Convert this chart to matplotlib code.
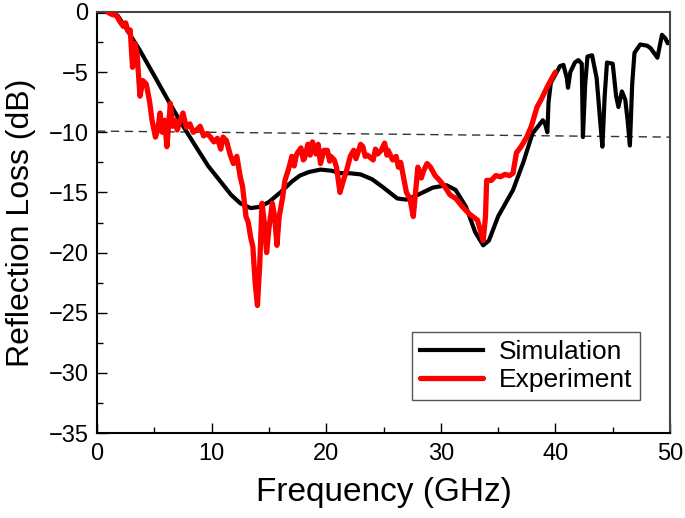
import matplotlib
matplotlib.use('Agg')
import matplotlib.pyplot as plt
from matplotlib.ticker import MultipleLocator

plt.rcParams['font.family'] = ['Liberation Sans', 'DejaVu Sans']

# Simulation (black)
sim_f = [0.0, 1.2, 1.8, 2.5, 3.75, 5.0, 6.0, 7.2, 8.5, 9.7, 10.7, 11.7, 12.5, 13.4, 14.2,
         15.0, 16.0, 17.0, 17.7, 18.5, 19.5, 20.5, 21.2, 22.0, 23.0, 24.0, 25.0, 26.2, 27.0,
         28.0, 29.3, 30.5, 31.3, 32.2, 33.0, 33.7, 34.2, 35.0, 36.3, 37.2, 38.0, 38.9, 39.1,
         39.3, 39.4, 39.6, 40.0, 40.4, 40.7, 41.0, 41.1, 41.3, 41.7, 42.0, 42.3, 42.4, 42.6,
         42.8, 43.2, 43.6, 43.9, 44.1, 44.3, 44.5, 45.0, 45.3, 45.5, 45.8, 46.1, 46.3, 46.5,
         46.7, 46.9, 47.4, 48.0, 48.3, 48.9, 49.3, 49.6, 49.8, 50.0]
sim_rl = [0.0, 0.0, -0.3, -1.3, -3.2, -5.3, -7.0, -9.0, -11.0, -12.8, -14.0, -15.2, -15.9,
          -16.3, -16.2, -15.8, -15.0, -14.1, -13.6, -13.3, -13.1, -13.2, -13.4, -13.4, -13.5,
          -13.9, -14.6, -15.5, -15.6, -15.2, -14.6, -14.4, -14.8, -16.2, -18.3, -19.4, -19.0,
          -17.0, -14.8, -12.5, -10.1, -9.0, -9.3, -10.0, -7.5, -5.9, -5.2, -4.5, -4.4, -5.5,
          -6.3, -5.0, -4.2, -4.0, -4.3, -10.4, -6.0, -3.7, -3.6, -5.5, -9.0, -11.2, -7.0, -4.2,
          -4.3, -7.0, -7.9, -6.6, -7.3, -9.0, -11.1, -6.0, -3.4, -2.7, -2.8, -3.0, -3.8, -1.9,
          -2.2, -2.6, -2.5]

# Experiment (red)
exp_f = [0.9, 1.3, 1.7, 2.0, 2.3, 2.5, 2.7, 2.9, 3.0, 3.1, 3.3, 3.5, 3.75, 4.0, 4.3, 4.6,
         4.8, 5.1, 5.3, 5.5, 5.7, 5.9, 6.1, 6.4, 6.6, 6.8, 7.0, 7.2, 7.5, 7.8, 8.1, 8.4, 8.7,
         9.0, 9.3, 9.6, 9.9, 10.2, 10.5, 10.8, 11.0, 11.3, 11.6, 11.9, 12.2, 12.5, 12.7, 13.0,
         13.2, 13.4, 13.6, 13.8, 14.0, 14.2, 14.4, 14.6, 14.8, 15.0, 15.3, 15.5, 15.7, 15.9,
         16.2, 16.4, 16.7, 16.9, 17.0, 17.2, 17.4, 17.5, 17.8, 18.0, 18.1, 18.4, 18.6, 18.8,
         19.1, 19.3, 19.5, 19.8, 20.1, 20.3, 20.4, 20.7, 20.9, 21.2, 21.5, 21.8, 22.1, 22.4,
         22.6, 22.8, 23.0, 23.2, 23.4, 23.6, 24.1, 24.3, 24.5, 24.8, 25.1, 25.3, 25.4, 25.8,
         26.1, 26.3, 26.5, 27.0, 27.3, 27.6, 28.0, 28.3, 28.5, 28.8, 29.1, 29.5, 29.9, 30.4,
         30.8, 31.3, 31.9, 32.5, 33.2, 33.7, 33.9, 34.0, 34.4, 34.8, 35.2, 35.6, 36.0, 36.3,
         36.6, 37.0, 37.5, 37.9, 38.4, 38.8, 39.3, 39.7, 40.0]
exp_rl = [0.0, -0.2, -0.3, -0.8, -1.2, -0.9, -1.6, -1.5, -3.0, -4.6, -2.6, -3.5, -7.0, -5.7,
          -6.0, -7.5, -9.0, -10.4, -9.8, -8.4, -10.0, -9.0, -11.2, -7.6, -9.5, -9.0, -9.8,
          -9.2, -8.4, -9.6, -9.3, -10.0, -9.8, -9.5, -10.3, -10.1, -10.4, -10.8, -10.5, -11.4,
          -10.4, -10.7, -11.8, -12.6, -12.0, -13.7, -14.5, -17.0, -17.5, -18.7, -19.5, -22.5,
          -24.4, -21.0, -15.9, -17.5, -20.0, -18.0, -15.9, -17.0, -19.4, -17.0, -15.4, -14.0,
          -13.1, -12.4, -12.0, -12.8, -11.9, -11.7, -11.3, -12.3, -12.2, -11.0, -11.9, -10.8,
          -11.8, -11.0, -12.6, -11.5, -11.5, -12.4, -12.0, -12.3, -12.9, -15.0, -14.0, -13.1,
          -12.0, -11.5, -12.2, -11.6, -11.0, -11.2, -12.0, -11.9, -12.3, -11.4, -11.8, -11.5,
          -10.9, -11.9, -11.5, -12.3, -12.0, -12.9, -12.5, -15.0, -15.5, -17.0, -12.9, -13.8,
          -13.2, -12.6, -12.9, -13.6, -14.0, -14.6, -15.2, -15.5, -16.2, -16.8, -17.3, -19.0,
          -17.0, -14.0, -14.0, -13.6, -13.7, -13.5, -13.6, -13.4, -11.7, -11.2, -10.4, -9.5,
          -7.9, -7.2, -6.2, -5.5, -5.0]

# -10 dB reference line
ref_f = [0, 50]
ref_rl = [-9.9, -10.4]

fig = plt.figure(figsize=(6.85, 5.18), dpi=100)
ax = fig.add_axes([97/685, 85/518, 573/685, 421/518])

ax.plot(ref_f, ref_rl, color='#333333', linewidth=1.0, dashes=(6, 4), zorder=1)
ax.plot(sim_f, sim_rl, color='black', linewidth=3.0, label='Simulation', zorder=2)
ax.plot(exp_f, exp_rl, color='red', linewidth=3.8, label='Experiment', zorder=3,
        solid_capstyle='round')

ax.set_xlim(0, 50)
ax.set_ylim(-35, 0)
ax.xaxis.set_major_locator(MultipleLocator(10))
ax.xaxis.set_minor_locator(MultipleLocator(5))
ax.yaxis.set_major_locator(MultipleLocator(5))
ax.yaxis.set_minor_locator(MultipleLocator(2.5))
ax.tick_params(which='both', direction='in', top=False, right=False, width=1.0)
ax.tick_params(which='major', length=7)
ax.tick_params(which='minor', length=4)
ax.tick_params(axis='x', labelsize=17, pad=7)
ax.tick_params(axis='y', labelsize=17, pad=6)
for s in ax.spines.values():
    s.set_linewidth(1.5)
ax.spines['right'].set_color('#444444')
ax.spines['top'].set_color('#444444')

ax.set_xlabel('Frequency (GHz)', fontsize=24, labelpad=9)
ax.set_ylabel('Reflection Loss (dB)', fontsize=23, labelpad=9)

leg = ax.legend(loc='lower right', bbox_to_anchor=(0.948, 0.078), borderaxespad=0,
                fontsize=19, handlelength=2.4, labelspacing=0.15, borderpad=0.3,
                handletextpad=0.6, fancybox=False, framealpha=1, edgecolor='#555555')
leg.get_frame().set_linewidth(1.0)

plt.savefig('out.png', dpi=100)
